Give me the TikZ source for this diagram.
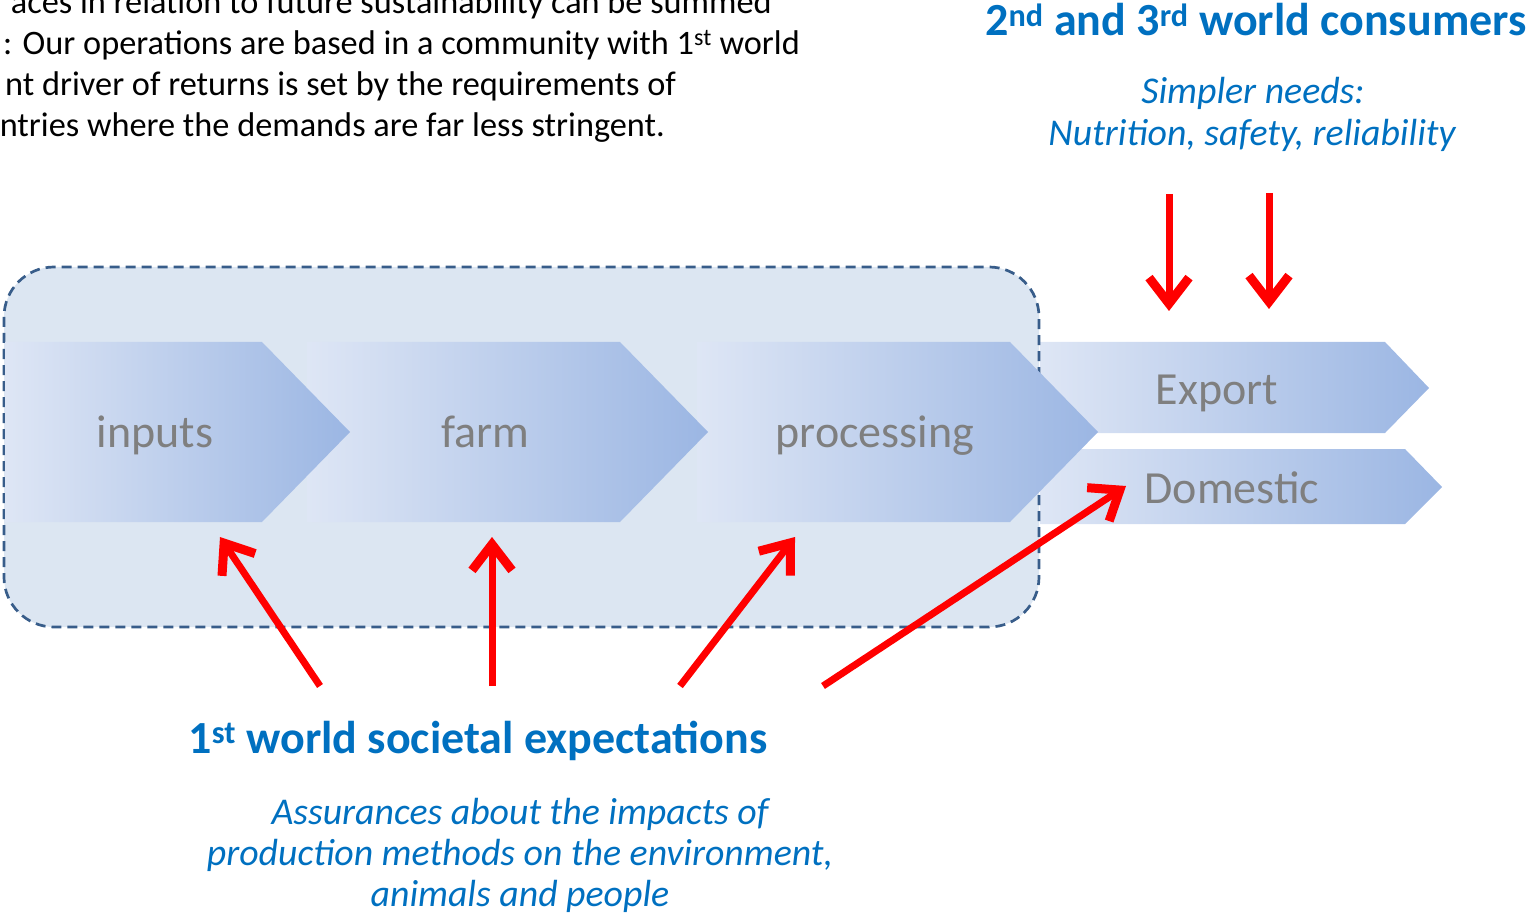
\documentclass[tikz,border=0pt]{standalone}
\usepackage{fontspec}
\setmainfont{Carlito}
\usepackage{tikz}
\usetikzlibrary{arrows.meta}
\definecolor{boxfill}{RGB}{220,230,242}
\definecolor{boxline}{RGB}{56,93,138}
\definecolor{chevL}{RGB}{222,230,245}
\definecolor{chevR}{RGB}{155,182,227}
\definecolor{labgray}{RGB}{127,127,127}
\definecolor{headblue}{RGB}{0,112,192}
\newcommand{\bodytxt}{\fontsize{34.3}{40}\selectfont}
\newcommand{\headtxt}{\fontsize{46}{54}\selectfont}
\newcommand{\notetxt}{\fontsize{37.8}{41}\selectfont}
\newcommand{\chevtxt}{\fontsize{46}{52}\selectfont}
\tikzset{
  chev/.style={left color=chevL, right color=chevR, draw=none},
  chevlab/.style={text=labgray, inner sep=0pt, anchor=base, font=\chevtxt},
  head/.style={text=headblue, inner sep=0pt, anchor=base, font=\headtxt\bfseries},
  note/.style={text=headblue, inner sep=0pt, anchor=base, font=\notetxt\itshape},
  para/.style={inner sep=0pt, anchor=base east, font=\bodytxt},
  redarr/.style={draw=red, line width=7pt, -{Straight Barb[length=26pt, width=40pt, line width=9pt]}},
}

\begin{document}
\begin{tikzpicture}[x=1pt, y=-1pt]
    \useasboundingbox (0,0) rectangle (1529,917);
    \clip (0,0) rectangle (1529,917);

    %Outlets
    \path[chev] (1040,342) -- (1385,342) -- (1429,388) -- (1385,433) -- (1040,433) -- cycle;
    \path[chev] (1040,449) -- (1405,449) -- (1442,487) -- (1405,524) -- (1040,524) -- cycle;

    %Box
    \draw[fill=boxfill, draw=boxline, line width=2.7pt, dash pattern=on 10pt off 6pt, rounded corners=50pt]
        (4,267) rectangle (1039,627);

    %Chain
    \path[chev] (697,342) -- (1010,342) -- (1098,432) -- (1010,522) -- (697,522) -- cycle;
    \path[chev] (307,342) -- (620,342) -- (708,432) -- (620,522) -- (307,522) -- cycle;
    \path[chev] (5,342) -- (262,342) -- (350,432) -- (262,522) -- (5,522) -- cycle;

    %Nodes
    \node[chevlab] at (155,447) (inputs) {inputs};
    \node[chevlab] at (485,447) (farm) {farm};
    \node[chevlab] at (875,447) (processing) {processing};
    \node[chevlab] at (1217,404) (export) {Export};
    \node[chevlab] at (1232,503) (domestic) {Domestic};

    \node[para] at (772,14) (para1) {aces in relation to future sustainability can be summed};
    \node[para] at (800,55) (para2) {: Our operations are based in a community with 1\textsuperscript{st} world};
    \node[para] at (676,96) (para3) {nt driver of returns is set by the requirements of};
    \node[para] at (665,137) (para4) {ntries where the demands are far less stringent.};

    \node[head] at (1256,36) (consumers) {2\textsuperscript{nd} and 3\textsuperscript{rd} world consumers};
    \node[note] at (1253,104) (needs1) {Simpler needs:};
    \node[note] at (1252,146) (needs2) {Nutrition, safety, reliability};

    \node[head] at (478,753) (society) {1\textsuperscript{st} world societal expectations};
    \node[note] at (520,824) (assure1) {Assurances about the impacts of};
    \node[note] at (520,865) (assure2) {production methods on the environment,};
    \node[note] at (520,906) (assure3) {animals and people};

    %Arrow ends
    \coordinate (inT) at (320,686);
    \coordinate (inH) at (220,537);
    \coordinate (faT) at (492,686);
    \coordinate (faH) at (492,537);
    \coordinate (prT) at (680,686);
    \coordinate (prH) at (795,537);
    \coordinate (doT) at (823,686);
    \coordinate (doH) at (1126,486);
    \coordinate (exT1) at (1169,194);
    \coordinate (exH1) at (1169,311);
    \coordinate (exT2) at (1269,193);
    \coordinate (exH2) at (1269,309);

    %Lines
    \draw[redarr] (inT) -- (inH);
    \draw[redarr] (faT) -- (faH);
    \draw[redarr] (prT) -- (prH);
    \draw[redarr] (doT) -- (doH);
    \draw[redarr] (exT1) -- (exH1);
    \draw[redarr] (exT2) -- (exH2);
\end{tikzpicture}
\end{document}
